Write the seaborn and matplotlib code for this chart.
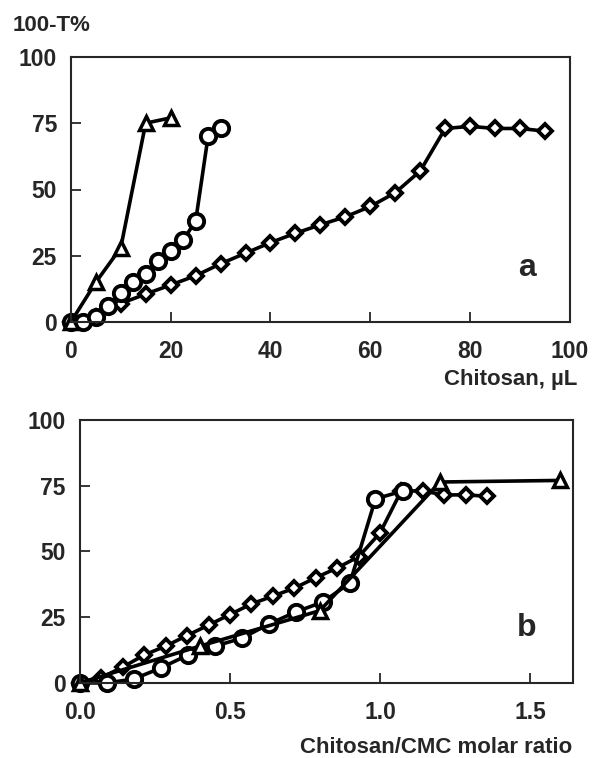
import matplotlib
matplotlib.use("Agg")
import matplotlib.pyplot as plt
import seaborn as sns

# panel a: 100-T% vs chitosan volume (uL)
tri_a_x = [0, 5, 10, 15, 20]
tri_a_y = [0, 15, 28, 75, 77]
circ_a_x = [0, 2.5, 5, 7.5, 10, 12.5, 15, 17.5, 20, 22.5, 25, 27.5, 30]
circ_a_y = [0, 0, 2, 6, 11, 15, 18, 23, 27, 31, 38, 70, 73]
dia_a_x = [0, 5, 10, 15, 20, 25, 30, 35, 40, 45, 50, 55, 60, 65, 70, 75, 80, 85, 90, 95]
dia_a_y = [0, 2, 7, 10.6, 14, 17.5, 22, 26, 30, 33.5, 36.7, 39.7, 43.6, 48.8, 57, 73, 73.8, 73, 73, 72]

# panel b: 100-T% vs chitosan/CMC molar ratio
tri_b_x = [0, 0.4, 0.8, 1.2, 1.6]
tri_b_y = [0, 14, 27.5, 76.4, 77]
circ_b_x = [0, 0.09, 0.18, 0.27, 0.36, 0.45, 0.54, 0.63, 0.72, 0.81, 0.9, 0.985, 1.077]
circ_b_y = [0, 0, 1.5, 5.7, 10.6, 14, 17, 22.4, 27, 30.8, 38, 70, 73]
dia_b_x = [0, 0.071, 0.143, 0.214, 0.286, 0.357, 0.429, 0.5, 0.571, 0.643, 0.714,
           0.786, 0.857, 0.929, 1.0, 1.071, 1.143, 1.214, 1.286, 1.357]
dia_b_y = [0, 2, 6, 10.6, 14, 18, 22, 26, 30, 33, 36, 40, 43.7, 48, 57, 73, 73, 71.5, 71.5, 71]

yticks = [0, 25, 50, 75, 100]

sns.set_style("ticks")
plt.rcParams['font.family'] = ['Liberation Sans', 'DejaVu Sans']
plt.rcParams['font.weight'] = 'bold'

fig = plt.figure(figsize=(5.95, 7.58), dpi=100)
ax_a = fig.add_axes([0.119, 0.575, 0.839, 0.350])
ax_b = fig.add_axes([0.134, 0.099, 0.829, 0.347])

line_kw = dict(color='black', linewidth=2.6, markerfacecolor='white',
               markeredgecolor='black', clip_on=False)


def draw_series(ax, dx, dy, cx, cy, tx, ty):
    sns.lineplot(x=dx, y=dy, ax=ax, marker='D', markersize=7, markeredgewidth=2.8,
                 sort=False, **line_kw)
    sns.lineplot(x=cx, y=cy, ax=ax, marker='o', markersize=11, markeredgewidth=2.8,
                 sort=False, **line_kw)
    sns.lineplot(x=tx, y=ty, ax=ax, marker='^', markersize=9.5, markeredgewidth=2.5,
                 sort=False, **line_kw)


draw_series(ax_a, dia_a_x, dia_a_y, circ_a_x, circ_a_y, tri_a_x, tri_a_y)
draw_series(ax_b, dia_b_x, dia_b_y, circ_b_x, circ_b_y, tri_b_x, tri_b_y)

ax_a.set_xlim(0, 100)
ax_a.set_xticks([0, 20, 40, 60, 80, 100])
ax_b.set_xlim(0, 1.643)
ax_b.set_xticks([0.0, 0.5, 1.0, 1.5])
ax_b.set_xticklabels(['0.0', '0.5', '1.0', '1.5'])

for ax in (ax_a, ax_b):
    ax.set_ylim(0, 100)
    ax.set_yticks(yticks)
    ax.tick_params(direction='in', length=7, width=1.3, labelsize=16.5,
                   top=False, right=False)
    ax.tick_params(axis='x', pad=13)
    ax.tick_params(axis='y', pad=10)
    for lab in ax.get_xticklabels() + ax.get_yticklabels():
        lab.set_fontweight('bold')
    for sp in ax.spines.values():
        sp.set_linewidth(1.5)
        sp.set_visible(True)
    ax.set_xlabel('')
    ax.set_ylabel('')

ax_a.text(0.913, 0.205, 'a', transform=ax_a.transAxes, fontsize=23,
          fontweight='heavy', ha='center', va='center')
ax_b.text(0.907, 0.21, 'b', transform=ax_b.transAxes, fontsize=23,
          fontweight='heavy', ha='center', va='center')

fig.text(0.970, 0.499, 'Chitosan, µL', ha='right', va='center',
         fontsize=16, fontweight='bold')
fig.text(0.962, 0.014, 'Chitosan/CMC molar ratio', ha='right', va='center',
         fontsize=16, fontweight='bold')
fig.text(0.022, 0.967, '100-T%', ha='left', va='center',
         fontsize=16, fontweight='bold')

fig.savefig('out.png', dpi=100)
plt.close(fig)
